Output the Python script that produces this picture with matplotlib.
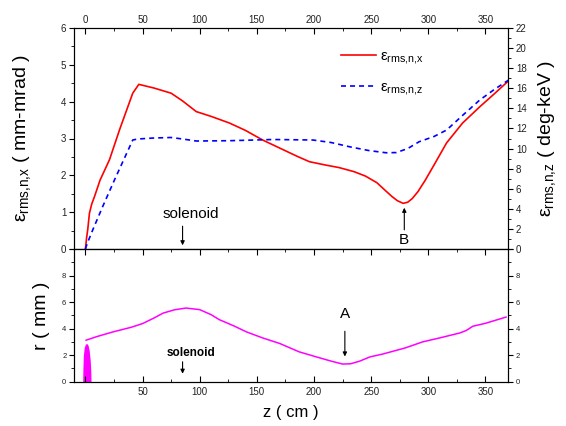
import numpy as np
import matplotlib
matplotlib.use('Agg')
import matplotlib.pyplot as plt
from matplotlib.ticker import MultipleLocator, FixedLocator

plt.rcParams['font.family'] = ['Liberation Sans', 'DejaVu Sans']
plt.rcParams['mathtext.fontset'] = 'custom'
plt.rcParams['mathtext.rm'] = 'Liberation Sans'
plt.rcParams['mathtext.it'] = 'Liberation Sans'
plt.rcParams['lines.scale_dashes'] = False

# emittance x (mm-mrad) along z (cm)
z_ex = [0, 1, 2, 3.5, 5.5, 7.9, 12.8, 21, 30, 41.4, 46.7, 60, 75, 85, 97, 110,
        126, 140, 155, 170, 185, 196, 210, 222, 235, 245, 255, 262, 268, 273,
        278, 282, 286, 291, 297, 305, 316, 330, 345, 358, 370]
ex = [0, 0.3, 0.52, 0.97, 1.22, 1.42, 1.87, 2.42, 3.25, 4.23, 4.47, 4.37,
      4.23, 4.02, 3.73, 3.6, 3.42, 3.22, 2.96, 2.74, 2.52, 2.37, 2.28, 2.21,
      2.10, 1.98, 1.80, 1.60, 1.43, 1.31, 1.24, 1.27, 1.37, 1.56, 1.85, 2.28,
      2.88, 3.42, 3.86, 4.22, 4.56]

# emittance z (deg-keV)
z_ez = [0, 0.6, 3, 6.4, 15, 25.4, 41.4, 45.8, 60, 75, 85, 97, 126, 164, 199,
        215, 231, 248, 263, 272, 282, 292, 305, 316, 330, 345, 358, 370]
ez = [0, 0.23, 0.95, 1.9, 4.2, 6.87, 10.85, 10.95, 11.05, 11.1, 10.95, 10.75,
      10.78, 10.9, 10.85, 10.6, 10.18, 9.8, 9.58, 9.6, 10.0, 10.68, 11.2, 11.84,
      13.3, 14.83, 15.9, 16.8]

# beam radius (mm)
z_r = [0.6, 10, 24, 40, 50, 60, 68, 78, 88, 100, 110, 117, 130, 141, 155, 170,
       187, 202, 215, 225, 232, 240, 249, 260, 280, 295, 310, 327.5, 333, 339,
       350, 368]
r = [3.13, 3.4, 3.75, 4.1, 4.38, 4.8, 5.17, 5.42, 5.55, 5.43, 5.05, 4.68, 4.2,
     3.75, 3.3, 2.88, 2.25, 1.87, 1.55, 1.33, 1.35, 1.55, 1.87, 2.08, 2.55,
     3.0, 3.3, 3.67, 3.85, 4.18, 4.4, 4.87]

# laser / gun profile spike
z_spk = [-2.4, -2.2, -1.8, -1.0, 0, 1.2, 2.3, 3.3, 4.2, 4.7, 4.9]
r_spk = [0, 1.0, 2.0, 2.6, 2.83, 2.88, 2.75, 2.35, 1.6, 0.8, 0]

fig = plt.figure(figsize=(5.66, 4.26), dpi=100)
L, W = 74 / 566, (508.3 - 74) / 566
ax1 = fig.add_axes([L, 1 - 249 / 426, W, 221 / 426])
ax2 = fig.add_axes([L, 1 - 381.7 / 426, W, 132.7 / 426])

lab_x = r'$\mathregular{\epsilon_{rms{,}n{,}x}}$'
lab_z = r'$\mathregular{\epsilon_{rms{,}n{,}z}}$'

# ---- top panel ----
l1, = ax1.plot(z_ex, ex, color='#ff0000', lw=1.2, label=lab_x)
ax1r = ax1.twinx()
l2, = ax1r.plot(z_ez, ez, color='#0000ff', lw=1.2, dashes=(3.6, 2.9),
                label=lab_z)

for a in (ax1, ax1r, ax2):
    a.set_xlim(-10, 370)
ax1.set_ylim(0, 6)
ax1r.set_ylim(0, 22)

ax1.xaxis.set_major_locator(MultipleLocator(50))
ax1.xaxis.set_minor_locator(MultipleLocator(25))
ax1.tick_params(axis='x', which='both', top=True, bottom=False,
                labeltop=True, labelbottom=False, direction='in')
ax1.tick_params(axis='x', which='major', length=4)
ax1.tick_params(axis='x', which='minor', length=2.5)
ax1.yaxis.set_major_locator(MultipleLocator(1))
ax1.yaxis.set_minor_locator(MultipleLocator(0.5))
ax1r.yaxis.set_major_locator(MultipleLocator(2))
ax1r.yaxis.set_minor_locator(MultipleLocator(1))
for a in (ax1, ax1r):
    a.tick_params(axis='y', which='both', direction='out')
    a.tick_params(axis='y', which='major', length=3.5)
    a.tick_params(axis='y', which='minor', length=2)
    a.tick_params(labelsize=7, labelcolor='#222222', pad=2)

ax1.set_ylabel(lab_x + ' ( mm-mrad )', fontsize=14)
ax1.yaxis.set_label_coords(-0.095, 0.5)
ax1r.set_ylabel(lab_z + ' ( deg-keV )', fontsize=14, rotation=90)
ax1r.yaxis.set_label_coords(1.065, 0.5)

leg = ax1.legend(handles=[l1, l2], loc='upper left', bbox_to_anchor=(0.6, 0.93),
                 frameon=False, fontsize=11, handlelength=2.3,
                 handletextpad=0.3, labelspacing=0.9, borderaxespad=0)

arw = dict(arrowstyle='-|>', color='black', lw=0.8, mutation_scale=6,
           shrinkA=0, shrinkB=0)
ax1.text(92, 0.95, 'solenoid', fontsize=11, ha='center', va='center')
ax1.annotate('', xy=(85, 0.1), xytext=(85, 0.62), arrowprops=arw)
ax1.text(279, 0.24, 'B', fontsize=11, ha='center', va='center')
ax1.annotate('', xy=(279, 1.12), xytext=(279, 0.52), arrowprops=arw)

# ---- bottom panel ----
ax2.plot(z_r, r, color='#ff00ff', lw=1.1)
ax2.fill_between(z_spk, r_spk, color='#ff00ff', lw=0)
ax2.set_ylim(0, 10)
ax2.xaxis.set_major_locator(MultipleLocator(50))
ax2.xaxis.set_minor_locator(MultipleLocator(25))
ax2.xaxis.set_major_formatter(lambda v, p: '' if v <= 0 else f'{v:.0f}')
ax2.tick_params(axis='x', which='both', top=True, bottom=True,
                direction='in', labelsize=7, labelcolor='#222222')
ax2.tick_params(axis='x', which='major', length=4)
ax2.tick_params(axis='x', which='minor', length=2.5)
ax2r = ax2.twinx()
ax2r.set_ylim(0, 10)
for a in (ax2, ax2r):
    a.yaxis.set_major_locator(FixedLocator([0, 2, 4, 6, 8, 10]))
    a.yaxis.set_minor_locator(MultipleLocator(1))
    a.yaxis.set_major_formatter(lambda v, p: '' if v >= 10 else f'{v:.0f}')
    a.tick_params(axis='y', which='both', direction='out', labelsize=5.5,
                  labelcolor='#222222', pad=2)
    a.tick_params(axis='y', which='major', length=3.5)
    a.tick_params(axis='y', which='minor', length=2)

ax2.set_ylabel('r ( mm )', fontsize=14)
ax2.yaxis.set_label_coords(-0.055, 0.5)
ax2.set_xlabel('z ( cm )', fontsize=12, labelpad=6)

ax2.text(92, 2.2, 'solenoid', fontsize=8.5, fontweight='bold',
         ha='center', va='center')
ax2.annotate('', xy=(85, 0.6), xytext=(85, 1.5), arrowprops=arw)
ax2.text(227, 5.1, 'A', fontsize=11, ha='center', va='center')
ax2.annotate('', xy=(227, 1.9), xytext=(227, 3.8), arrowprops=arw)

fig.savefig('out.png', dpi=100)
